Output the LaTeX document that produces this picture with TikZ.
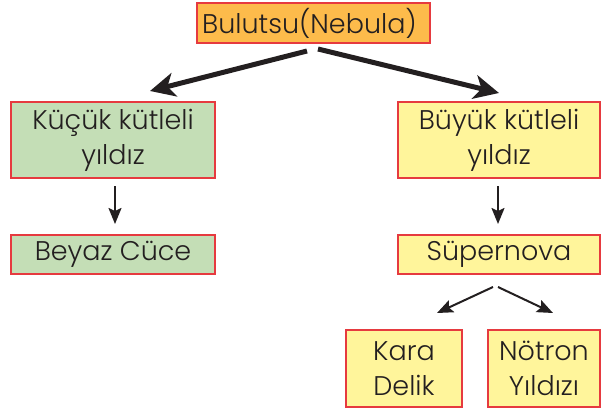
\documentclass[tikz,border=0pt]{standalone}
\usepackage{fontspec}
\setmainfont{Poppins}[UprightFont=* Light]
\usetikzlibrary{arrows.meta}
\definecolor{nebulaorange}{HTML}{FDBB4B}
\definecolor{lowgreen}{HTML}{C4DEB6}
\definecolor{highyellow}{HTML}{FFF59B}
\definecolor{edgered}{HTML}{E63A3F}
\definecolor{inkdark}{HTML}{231F20}
\tikzset{
  box/.style={draw=edgered, line width=1.2pt, inner sep=0pt, text=inkdark,
    align=center, font=\fontsize{27}{35}\selectfont},
  bigarrow/.style={draw=inkdark, line width=5pt,
    -{Stealth[length=25pt,width=24pt,inset=7pt]}},
  smallarrow/.style={draw=inkdark, line width=2pt,
    -{Stealth[length=16pt,width=13pt,inset=3pt]}},
}
\begin{document}
\begin{tikzpicture}[x=1pt,y=-1pt]
\useasboundingbox (0,0) rectangle (611,412);
% boxes: centres and sizes in picture units
\node[box, fill=nebulaorange, minimum width=233pt, minimum height=40pt,
  font=\fontsize{27}{30}\selectfont] (neb) at (313.5,23) {Bulutsu(Nebula)\hspace{8pt}};
\node[box, fill=lowgreen, minimum width=204pt, minimum height=76pt] (low) at (113,140) {Küçük kütleli\\yıldız};
\node[box, fill=highyellow, minimum width=202pt, minimum height=76pt] (high) at (499,140) {Büyük kütleli\\yıldız};
\node[box, fill=lowgreen, minimum width=204pt, minimum height=39pt] (white) at (113,254.5) {Beyaz Cüce};
\node[box, fill=highyellow, minimum width=202pt, minimum height=39pt] (super) at (499,254.5) {Süpernova};
\node[box, fill=highyellow, minimum width=116pt, minimum height=77pt] (black) at (404,368.5) {Kara\\Delik};
\node[box, fill=highyellow, minimum width=112pt, minimum height=77pt] (neutron) at (544,368.5) {Nötron\\Yıldızı};
% arrow end points
\coordinate (nebL) at (307,51);
\coordinate (nebR) at (318,49);
\coordinate (lowTip) at (150,91);
\coordinate (highTip) at (499,93);
\coordinate (lowFrom) at (115,186);
\coordinate (lowTo) at (115,224);
\coordinate (highFrom) at (498,186);
\coordinate (highTo) at (498,224);
\coordinate (supL) at (493,287);
\coordinate (supR) at (498,287);
\coordinate (blackTip) at (437,313);
\coordinate (neutronTip) at (553,313);
\draw[bigarrow] (nebL) -- (lowTip);
\draw[bigarrow] (nebR) -- (highTip);
\draw[smallarrow] (lowFrom) -- (lowTo);
\draw[smallarrow] (highFrom) -- (highTo);
\draw[smallarrow] (supL) -- (blackTip);
\draw[smallarrow] (supR) -- (neutronTip);
\end{tikzpicture}
\end{document}
